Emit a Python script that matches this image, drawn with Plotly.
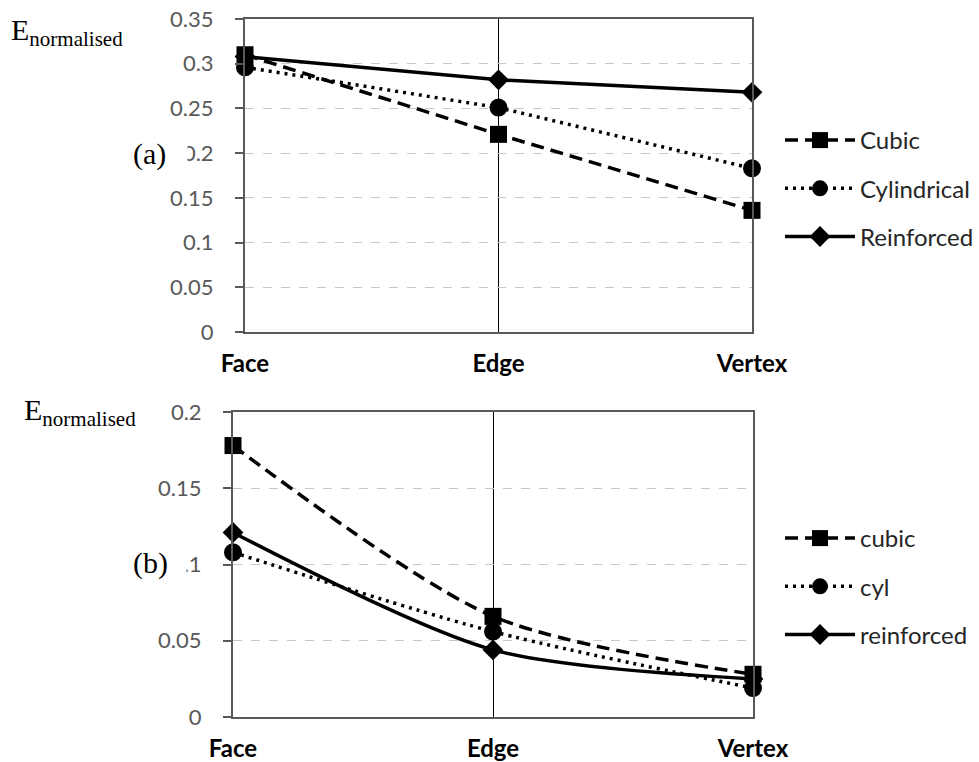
import plotly.graph_objects as go

categories = ["Face", "Edge", "Vertex"]

# Panel (a)
a_names = ["Cubic", "Cylindrical", "Reinforced"]
a_cubic = [0.310, 0.221, 0.136]
a_cyl = [0.296, 0.251, 0.183]
a_reinf = [0.308, 0.282, 0.268]

# Panel (b)
b_names = ["cubic", "cyl", "reinforced"]
b_cubic = [0.178, 0.066, 0.028]
b_cyl = [0.108, 0.056, 0.019]
b_reinf = [0.121, 0.044, 0.025]

a_ticks = [0, 0.05, 0.1, 0.15, 0.2, 0.25, 0.3, 0.35]
b_ticks = [0, 0.05, 0.1, 0.15, 0.2]

W, H = 979, 762
TICKFONT = "Lato, 'Open Sans', sans-serif"
SERIF = "'Liberation Serif', 'Times New Roman', serif"

styles = [
    dict(dash="13px,7px", symbol="square", size=17),
    dict(dash="3px,5px", symbol="circle", size=18),
    dict(dash="solid", symbol="diamond", size=16),
]

fig = go.Figure()

def add_panel(names, series, xa, ya, legend, shape):
    for i, (nm, vals) in enumerate(zip(names, series)):
        st = styles[i]
        fig.add_trace(go.Scatter(
            x=categories, y=vals, name=nm, mode="lines+markers",
            xaxis=xa, yaxis=ya, legend=legend, legendgroup=legend + str(i),
            cliponaxis=False,
            line=dict(color="black", width=3.5, dash=st["dash"], shape=shape, smoothing=0.8),
            marker=dict(symbol=st["symbol"], size=st["size"], color="black"),
        ))

add_panel(a_names, [a_cubic, a_cyl, a_reinf], "x", "y", "legend", "linear")
add_panel(b_names, [b_cubic, b_cyl, b_reinf], "x2", "y2", "legend2", "spline")

def px_x(p):
    return p / W

def px_y(p):
    return 1 - p / H

xaxis_common = dict(
    type="category", range=[0, 2], showgrid=True, gridcolor="black", gridwidth=1,
    showline=True, linecolor="#595959", linewidth=2, mirror=True,
    ticks="", tickfont=dict(family=TICKFONT, size=24, color="black", weight="bold"),
    ticklabelstandoff=9, automargin=False, fixedrange=True,
)
yaxis_common = dict(
    showgrid=True, gridcolor="#C8C8C8", gridwidth=1, griddash="dash",
    showline=True, linecolor="#595959", linewidth=2, mirror=True,
    zeroline=False, ticks="outside", ticklen=8, tickcolor="#595959", tickwidth=1.5,
    tickfont=dict(family=TICKFONT, size=22, color="#595959"),
    ticklabelstandoff=17, automargin=False, fixedrange=True,
)

legend_common = dict(
    xanchor="left", yanchor="top",
    font=dict(family=TICKFONT, size=24, color="#262626"),
    tracegroupgap=14, itemwidth=70, bgcolor="rgba(0,0,0,0)",
)

fig.update_layout(
    width=W, height=H,
    margin=dict(l=0, r=0, t=0, b=0),
    paper_bgcolor="white", plot_bgcolor="white",
    showlegend=True,
    xaxis=dict(domain=[px_x(245), px_x(752)], anchor="y", **xaxis_common),
    yaxis=dict(domain=[px_y(332), px_y(19)], anchor="x", range=[0, 0.35],
               tickvals=a_ticks, **yaxis_common),
    xaxis2=dict(domain=[px_x(233), px_x(753)], anchor="y2", **xaxis_common),
    yaxis2=dict(domain=[px_y(717), px_y(412)], anchor="x2", range=[0, 0.2],
                tickvals=b_ticks, **yaxis_common),
    legend=dict(x=px_x(780), y=px_y(118), **legend_common),
    legend2=dict(x=px_x(780), y=px_y(516), **legend_common),
    annotations=[
        dict(text="E<sub><span style='font-size:21px'>normalised</span></sub>",
             x=px_x(9), y=px_y(53), xref="paper", yref="paper",
             xanchor="left", yanchor="bottom", showarrow=False,
             font=dict(family=SERIF, size=30, color="black")),
        dict(text="E<sub><span style='font-size:21px'>normalised</span></sub>",
             x=px_x(22), y=px_y(433), xref="paper", yref="paper",
             xanchor="left", yanchor="bottom", showarrow=False,
             font=dict(family=SERIF, size=30, color="black")),
        dict(text="(a)", x=px_x(128), y=px_y(154), xref="paper", yref="paper",
             xanchor="left", yanchor="middle", showarrow=False, bgcolor="white",
             borderpad=4, width=50, align="left",
             font=dict(family=SERIF, size=30, color="black")),
        dict(text="(b)", x=px_x(128), y=px_y(563), xref="paper", yref="paper",
             xanchor="left", yanchor="middle", showarrow=False, bgcolor="white",
             borderpad=4, width=49, align="left",
             font=dict(family=SERIF, size=30, color="black")),
    ],
)

fig.write_html("out.html", config={"displayModeBar": False},
               post_script="document.body.style.margin='0';document.body.style.overflow='hidden';")
